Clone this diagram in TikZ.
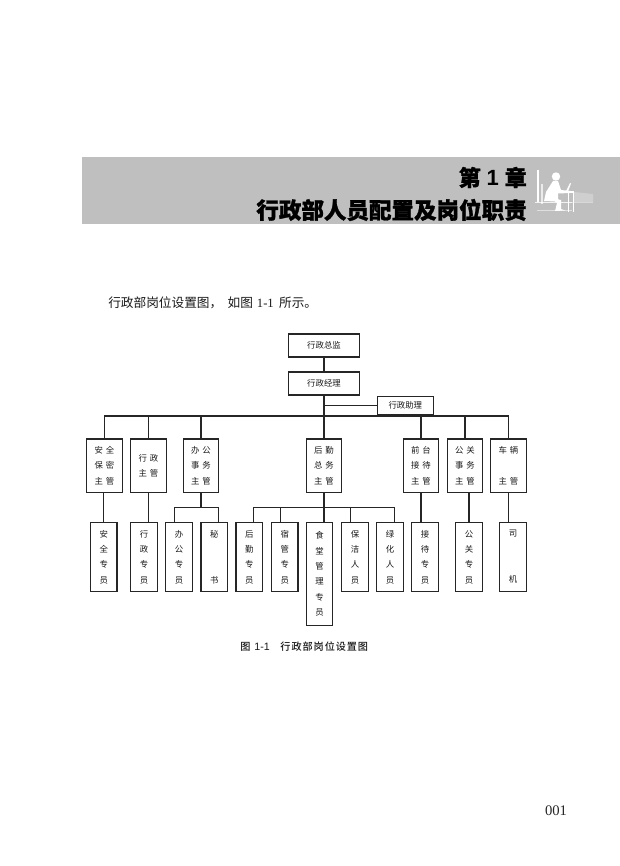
\documentclass[tikz,border=0pt]{standalone}
\usepackage{fontspec}
\setmainfont{Liberation Serif}
\newfontfamily\cjk{Noto Sans CJK SC}
\newfontfamily\cjkblack{Noto Sans CJK SC Black}[AutoFakeBold=1.2]
\newfontfamily\cjkmed{Noto Sans CJK SC Medium}
\newfontfamily\lab{Liberation Sans}
\newcommand{\gp}{\hspace{2.2pt}}
\begin{document}
\begin{tikzpicture}[x=0.75pt,y=-0.75pt,
  boxbase/.style={draw=black!85,line width=0.95pt,fill=white,inner sep=0pt,align=center,text=black!90,font=\cjk\fontsize{6.3}{11.5}\selectfont},
  topbox/.style={boxbase,minimum width=53pt,minimum height=17.2pt},
  asstbox/.style={boxbase,minimum width=42pt,minimum height=13pt},
  supbox/.style={boxbase,minimum width=26.7pt,minimum height=40pt},
  staffbox/.style={boxbase,minimum width=20pt,minimum height=51.5pt},
  tallbox/.style={boxbase,minimum width=20pt,minimum height=77pt},
  wire/.style={draw=black!85,line width=0.95pt},
  textline/.style={inner sep=0pt,text=black!90,anchor=west}]
\useasboundingbox (0,0) rectangle (620,866);
\fill[white] (0,0) rectangle (620,866);
% banner
\fill[black!25] (82,157) rectangle (620,224);
\node[inner sep=0pt,text=black,anchor=east,font=\cjkblack\bfseries\fontsize{16.5}{20}\selectfont] (t1) at (527,177.5) {第\hspace{4.4pt}{\lab\bfseries 1}\hspace{4.4pt}章};
\node[inner sep=0pt,text=black,anchor=east,font=\cjkblack\bfseries\fontsize{16.9}{20}\selectfont] (t2) at (527,210) {行政部人员配置及岗位职责};
% icon
\begin{scope}[white]
  \fill (537,170) rectangle (538.5,202);
  \fill[opacity=.7] (541,184) rectangle (543,204);
  \fill (556,176.5) circle (4.2);
  \fill (553,181) -- (558,181) -- (561,190) -- (570,191) -- (570,193) -- (558,193.5) -- (558,199) -- (561,201) -- (556,201.5)-- (544,201) -- (546,192) -- cycle;
  \fill (553,200) -- (561,200) -- (561,209) -- (565,210.5) -- (555,211) -- (557,203) -- cycle;
  \fill (553,192) rectangle (573,193);
  \fill (566,191) -- (570,183) -- (571,183.5) -- (568,191.5) -- cycle;
  \fill (566,191.5) rectangle (573.5,193);
  \fill (568,192) rectangle (569.3,212);
  \fill (572.5,192) rectangle (573.8,212);
  \fill[opacity=.8] (535,202) rectangle (572,203.2);
  \fill[opacity=.4] (572,202) rectangle (593,203.2);
  \fill[opacity=.25] (574,192) -- (593,194) -- (593,202) -- (574,202) -- cycle;
  \fill[opacity=.5] (537,210) rectangle (572,211);
\end{scope}
% body text
\node[textline,font=\cjk\fontsize{9.5}{12}\selectfont] (body) at (108,303) {行政部岗位设置图，\hspace{4pt}如图\hspace{3pt}{\rmfamily\fontsize{9.5}{12}\selectfont 1-1}\hspace{4pt}所示。};
% level 1
\node[topbox] (boss) at (324,345.5) {行政总监};
\node[topbox] (mgr) at (324,383.5) {行政经理};
\node[asstbox] (asst) at (405.3,405.5) {行政助理};
% supervisors
\node[supbox] (s1) at (104.5,465.7) {安\gp 全\\保\gp 密\\主\gp 管};
\node[supbox] (s2) at (148.5,465.7) {行\gp 政\\主\gp 管};
\node[supbox] (s3) at (201,465.7) {办\gp 公\\事\gp 务\\主\gp 管};
\node[supbox] (s4) at (324,465.7) {后\gp 勤\\总\gp 务\\主\gp 管};
\node[supbox] (s5) at (421,465.7) {前\gp 台\\接\gp 待\\主\gp 管};
\node[supbox] (s6) at (465,465.7) {公\gp 关\\事\gp 务\\主\gp 管};
\node[supbox] (s7) at (508.5,465.7) {车\gp 辆\\ \\主\gp 管};
% staff
\node[staffbox] (e1) at (103.7,557) {安\\全\\专\\员};
\node[staffbox] (e2) at (144,557) {行\\政\\专\\员};
\node[staffbox] (e3) at (179,557) {办\\公\\专\\员};
\node[staffbox] (e4) at (214.3,557) {秘\\ \\ \\书};
\node[staffbox] (e5) at (249.3,557) {后\\勤\\专\\员};
\node[staffbox] (e6) at (284.7,557) {宿\\管\\专\\员};
\node[tallbox] (e7) at (319.5,574) {食\\堂\\管\\理\\专\\员};
\node[staffbox] (e8) at (355,557) {保\\洁\\人\\员};
\node[staffbox] (e9) at (390,557) {绿\\化\\人\\员};
\node[staffbox] (e10) at (425,557) {接\\待\\专\\员};
\node[staffbox] (e11) at (469,557) {公\\关\\专\\员};
\node[staffbox] (e12) at (513,557) {司\\ \\ \\机};
% junctions
\coordinate (bus) at (324,416);
\coordinate (j3) at (201,507.3);
\coordinate (j4) at (324,507.3);
\coordinate (d3) at (174.3,522.7);
\coordinate (d4) at (218.7,522.7);
\coordinate (d5) at (253.7,522.7);
\coordinate (d6) at (280.3,522.7);
\coordinate (d8) at (350.7,522.7);
\coordinate (d9) at (394.3,522.7);
% connectors
\draw[wire] (boss) -- (mgr);
\draw[wire] (mgr) -- (s4);
\draw[wire] (asst.west) -- (asst.west -| mgr.south);
\foreach \n in {s1,s2,s3,s5,s6,s7} \draw[wire] (\n.north) |- (bus);
\draw[wire] (s1.south -| e1.north) -- (e1.north);
\draw[wire] (s2.south) -- (s2.south |- e2.north);
\draw[wire] (s3.south) -- (j3);
\draw[wire] (j3) -| (d3);
\draw[wire] (j3) -| (d4);
\draw[wire] (s4.south) -- (s4.south |- e7.north);
\draw[wire] (j4) -| (d5);
\draw[wire] (j4) -| (d6);
\draw[wire] (j4) -| (d8);
\draw[wire] (j4) -| (d9);
\draw[wire] (s5.south) -- (s5.south |- e10.north);
\draw[wire] (e11.north) -- (e11.north |- s6.south);
\draw[wire] (s7.south) -- (s7.south |- e12.north);
% caption and folio
\node[textline,font=\cjkmed\fontsize{7.6}{10}\selectfont] (cap) at (240,647) {图\hspace{3pt}{\lab\fontsize{8}{10}\selectfont 1-1}\hspace{8pt}行\hspace{.7pt}政\hspace{.7pt}部\hspace{.7pt}岗\hspace{.7pt}位\hspace{.7pt}设\hspace{.7pt}置\hspace{.7pt}图};
\node[inner sep=0pt,text=black!85,font=\fontsize{11}{13}\selectfont] (folio) at (556,811) {001};
\end{tikzpicture}
\end{document}
